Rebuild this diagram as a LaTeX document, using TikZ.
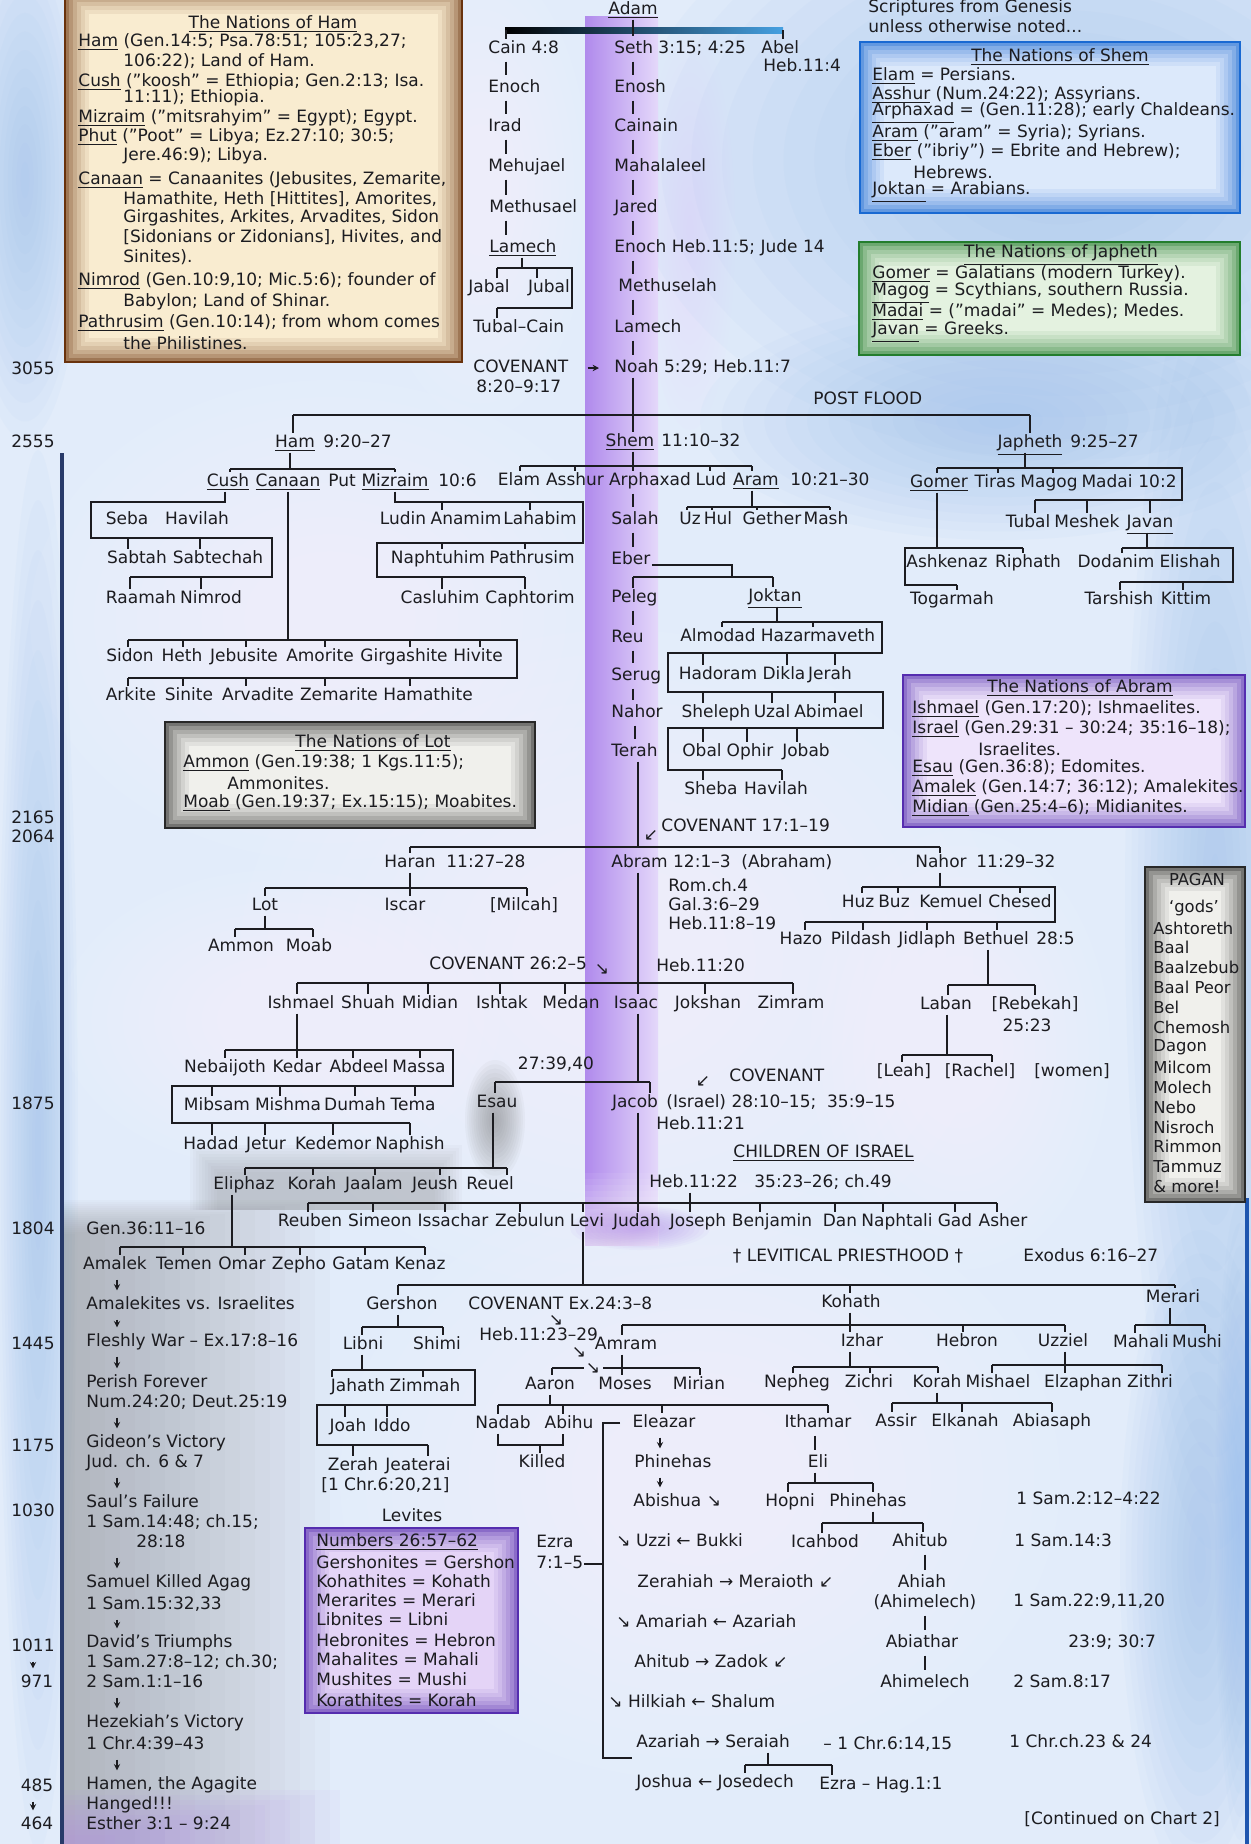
\documentclass[tikz,border=0pt]{standalone}
\usepackage{fontspec}
\setmainfont{DejaVu Sans}
\usetikzlibrary{arrows.meta}
\definecolor{bg}{RGB}{226,236,250}
\definecolor{blueA}{RGB}{150,188,238}
\definecolor{vioL}{RGB}{176,138,236}
\definecolor{vioR}{RGB}{228,216,250}
\definecolor{axisc}{RGB}{40,58,105}
\definecolor{ink}{RGB}{28,28,32}
\definecolor{hamF}{RGB}{249,236,208}
\definecolor{hamE}{RGB}{105,50,12}
\definecolor{shemF}{RGB}{220,233,251}
\definecolor{shemE}{RGB}{25,105,210}
\definecolor{japF}{RGB}{228,242,224}
\definecolor{japE}{RGB}{35,125,45}
\definecolor{abrF}{RGB}{238,228,251}
\definecolor{abrE}{RGB}{85,45,175}
\definecolor{lotF}{RGB}{240,240,236}
\definecolor{lotE}{RGB}{40,40,40}
\definecolor{levF}{RGB}{228,212,247}
\definecolor{edgeB}{RGB}{30,85,175}
\definecolor{adamB}{RGB}{70,160,225}
\tikzset{
  t/.style={inner sep=0.5pt,font=\fontsize{8.5}{10}\selectfont,text=ink,text height=6.4pt,text depth=1.8pt},
  bt/.style={inner sep=0pt,anchor=west,font=\fontsize{8.5}{10}\selectfont,text=ink},
  pg/.style={inner sep=0pt,anchor=west,font=\fontsize{8.2}{10}\selectfont,text=ink},
  ln/.style={draw=ink,line width=0.8pt},
  lnb/.style={draw=ink,line width=1.1pt},
  arr/.style={draw=ink,line width=0.7pt,-{Stealth[length=3.2pt,width=3.2pt]},shorten <=2.5pt,shorten >=2.5pt}
}
\newcommand\NT[4]{\node[t] (#1) at (#2,#3) {#4};}
\newcommand\NW[4]{\node[t,anchor=west] (#1) at (#2,#3) {#4};}
\newcommand\NB[4]{\node[bt] (#1) at (#2,#3) {#4};}
\newcommand\Tk[3]{\draw[ln] (#2,#3) -- (#2,#3 |- #1.north);}
\newcommand\Dn[3]{\draw[ln] (#2,0 |- #1.south) -- (#2,#3);}
\newcommand\Ch[3]{\draw[ln,shorten <=1.5pt,shorten >=1.5pt] (#1,0 |- #2.south) -- (#1,0 |- #3.north);}
\newcommand\Ar[3]{\draw[arr] (#1,0 |- #2.south) -- (#1,0 |- #3.north);}
\newcommand\Glow[5]{\foreach \k in {1,...,14}{\fill[#5,opacity=0.055] (#1,#2) ellipse ({#3*\k/14} and {#4*\k/14});}}
\newcommand\Frbox[6]{%
  \fill[#5] (#1,#2) rectangle (#3,#4);
  \foreach \w/\o in {12/0.07,10/0.08,8/0.1,6/0.13,4/0.18,2/0.3}{%
    \draw[#6,opacity=\o,line width=\w pt] (#1+\w,#2+\w) rectangle (#3-\w,#4-\w);}
  \draw[#6,line width=1.3pt] (#1,#2) rectangle (#3,#4);}
\begin{document}
\begin{tikzpicture}[x=0.5pt,y=-0.5pt]
\useasboundingbox (0,0) rectangle (1251,1844);
% ---------- background ----------
\fill[bg] (0,0) rectangle (1251,1844);
\Glow{1060}{160}{430}{300}{blueA}
\Glow{1000}{420}{300}{120}{blueA}
\Glow{25}{180}{60}{260}{blueA}
\Glow{1215}{900}{90}{650}{blueA}
\Glow{1200}{1560}{80}{330}{blueA}
\Glow{38}{1150}{40}{700}{blueA}
\Glow{330}{620}{300}{240}{white}
\Glow{480}{190}{110}{230}{white}
\Glow{620}{960}{380}{330}{white}
\Glow{700}{1480}{360}{300}{white}
\Glow{960}{1050}{150}{220}{white}
\Glow{280}{1020}{220}{150}{white}
% purple band
\shade[left color=vioL,right color=vioR] (585,16) rectangle (658,1245);
\foreach \i in {1,...,12}{\fill[white,opacity=0.07] (584,{1245-\i*6}) rectangle (659,1246);}
\Glow{690}{230}{45}{200}{vioR}
\Glow{640}{1228}{70}{22}{vioL}
% gray area (Esau / Amalek)
\foreach \i in {0,...,17}{\fill[gray,opacity=0.032] (63,{1200+\i*2}) rectangle ({330-\i*15},1844);}
\foreach \i in {0,...,9}{\fill[gray,opacity=0.04] ({190+\i*3},{1145+\i*3}) rectangle ({462-\i*3},1210);}
\Glow{495}{1120}{30}{60}{gray}
\foreach \i in {0,...,9}{\fill[vioL,opacity=0.06] (63,{1790+\i*5}) rectangle ({340-\i*25},1844);}
% axis and right edge
\draw[axisc,line width=1.6pt] (62,453) -- (62,1844);
\Glow{1240}{1520}{25}{320}{blueA}
\draw[edgeB,line width=2pt] (1247,1198) -- (1247,1844);
% ---------- boxes ----------
\Frbox{65}{-10}{462}{362}{hamF}{hamE}
\Frbox{860}{42}{1240}{213}{shemF}{shemE}
\Frbox{859}{242}{1240}{355}{japF}{japE}
\Frbox{903}{675}{1245}{827}{abrF}{abrE}
\Frbox{165}{722}{535}{828}{lotF}{lotE}
\Frbox{1145}{867}{1245}{1202}{lotF}{lotE}
\Frbox{305}{1528}{518}{1713}{levF}{abrE}
% Ham box text
\node[bt,anchor=center] (hamt) at (273,24) {\underline{The Nations of Ham}};
\NB{h1}{78}{42}{\underline{Ham} (Gen.14:5; Psa.78:51; 105:23,27;}
\NB{h2}{123}{61}{106:22); Land of Ham.}
\NB{h3}{78}{82}{\underline{Cush} ("koosh" = Ethiopia; Gen.2:13; Isa.}
\NB{h4}{123}{98}{11:11); Ethiopia.}
\NB{h5}{78}{118}{\underline{Mizraim} ("mitsrahyim" = Egypt); Egypt.}
\NB{h6}{78}{137}{\underline{Phut} ("Poot" = Libya; Ez.27:10; 30:5;}
\NB{h7}{123}{156}{Jere.46:9); Libya.}
\NB{h8}{78}{180}{\underline{Canaan} = Canaanites (Jebusites, Zemarite,}
\NB{h9}{123}{199}{Hamathite, Heth [Hittites], Amorites,}
\NB{h10}{123}{218}{Girgashites, Arkites, Arvadites, Sidon}
\NB{h11}{123}{237}{[Sidonians or Zidonians], Hivites, and}
\NB{h12}{123}{257}{Sinites).}
\NB{h13}{78}{281}{\underline{Nimrod} (Gen.10:9,10; Mic.5:6); founder of}
\NB{h14}{123}{302}{Babylon; Land of Shinar.}
\NB{h15}{78}{323}{\underline{Pathrusim} (Gen.10:14); from whom comes}
\NB{h16}{123}{343}{the Philistines.}
% top right note
\NB{scr}{868}{8}{Scriptures from Genesis}
\NB{unless}{868}{26}{unless otherwise noted...}
% Shem box
\node[bt,anchor=center] (shemt) at (1060,57) {\underline{The Nations of Shem}};
\NB{s1}{872}{76}{\underline{Elam} = Persians.}
\NB{s2}{872}{95}{\underline{Asshur} (Num.24:22); Assyrians.}
\NB{s3}{872}{113}{\underline{Arphaxad} = (Gen.11:28); early Chaldeans.}
\NB{s4}{872}{133}{\underline{Aram} ("aram" = Syria); Syrians.}
\NB{s5}{872}{152}{\underline{Eber} ("ibriy") = Ebrite and Hebrew);}
\NB{s6}{913}{172}{Hebrews.}
\NB{s7}{872}{192}{\underline{Joktan} = Arabians.}
% Japheth box
\node[bt,anchor=center] (japt) at (1061,255) {\underline{The Nations of Japheth}};
\NB{j1}{872}{274}{\underline{Gomer} = Galatians (modern Turkey).}
\NB{j2}{872}{293}{\underline{Magog} = Scythians, southern Russia.}
\NB{j3}{872}{312}{\underline{Madai} = ("madai" = Medes); Medes.}
\NB{j4}{872}{332}{\underline{Javan} = Greeks.}
% Abram box
\node[bt,anchor=center] (abrt) at (1080,688) {\underline{The Nations of Abram}};
\NB{a1}{912}{709}{\underline{Ishmael} (Gen.17:20); Ishmaelites.}
\NB{a2}{912}{729}{\underline{Israel} (Gen.29:31 -- 30:24; 35:16--18);}
\NB{a3}{978}{749}{Israelites.}
\NB{a4}{912}{768}{\underline{Esau} (Gen.36:8); Edomites.}
\NB{a5}{912}{788}{\underline{Amalek} (Gen.14:7; 36:12); Amalekites.}
\NB{a6}{912}{808}{\underline{Midian} (Gen.25:4--6); Midianites.}
% Lot box
\node[bt,anchor=center] (lott) at (373,743) {\underline{The Nations of Lot}};
\NB{l1}{183}{763}{\underline{Ammon} (Gen.19:38; 1 Kgs.11:5);}
\NB{l2}{227}{783}{Ammonites.}
\NB{l3}{183}{803}{\underline{Moab} (Gen.19:37; Ex.15:15); Moabites.}
% PAGAN box
\node[pg,anchor=center] (pagan) at (1197,880) {PAGAN};
\node[pg,anchor=center] (gods) at (1194,908) {`gods'};
\foreach \g [count=\n] in {Ashtoreth,Baal,Baalzebub,Baal Peor,Bel,Chemosh,Dagon,Milcom,Molech,Nebo,Nisroch,Rimmon,Tammuz,\& more!}
  {\node[pg] (pg\n) at (1153,{908+\n*19.9}) {\g};}
% Levites box
\NT{levlab}{412}{1517}{Levites}
\NB{lv0}{316}{1542}{\underline{Numbers 26:57--62}}
\NB{lv1}{316}{1562}{Gershonites = Gershon}
\NB{lv2}{316}{1581}{Kohathites = Kohath}
\NB{lv3}{316}{1600}{Merarites = Merari}
\NB{lv4}{316}{1619}{Libnites = Libni}
\NB{lv5}{316}{1640}{Hebronites = Hebron}
\NB{lv6}{316}{1659}{Mahalites = Mahali}
\NB{lv7}{316}{1679}{Mushites = Mushi}
\NB{lv8}{316}{1700}{Korathites = Korah}
% ---------- timeline ----------
\NT{y3055}{33}{370}{3055}
\NT{y2555}{33}{443}{2555}
\NT{y2165}{33}{819}{2165}
\NT{y2064}{33}{838}{2064}
\NT{y1875}{33}{1105}{1875}
\NT{y1804}{33}{1230}{1804}
\NT{y1445}{33}{1345}{1445}
\NT{y1175}{33}{1447}{1175}
\NT{y1030}{33}{1512}{1030}
\NT{y1011}{33}{1647}{1011}
\NT{y971}{37}{1683}{971}
\Ar{33}{y1011}{y971}
\NT{y485}{37}{1787}{485}
\NT{y464}{37}{1825}{464}
\Ar{33}{y485}{y464}
% ---------- Adam to Noah ----------
\NT{adam}{633}{10}{\underline{Adam}}
\NW{cain}{487}{49}{Cain 4:8}
\NW{enocha}{487}{88}{Enoch}
\NW{irad}{487}{127}{Irad}
\NW{mehujael}{487}{167}{Mehujael}
\NW{methusael}{488}{208}{Methusael}
\NW{lamecha}{488}{248}{\underline{Lamech}}
\NT{jabal}{489}{288}{Jabal}
\NT{jubal}{549}{288}{Jubal}
\NW{tubalcain}{472}{328}{Tubal--Cain}
\NW{cov1}{472}{368}{COVENANT}
\NW{cov1r}{475}{388}{8:20--9:17}
\NW{seth}{613}{49}{Seth 3:15; 4:25}
\NW{abel}{760}{49}{Abel}
\NW{abelr}{762}{67}{Heb.11:4}
\NW{enosh}{613}{88}{Enosh}
\NW{cainain}{613}{127}{Cainain}
\NW{mahalaleel}{613}{167}{Mahalaleel}
\NW{jared}{613}{208}{Jared}
\NW{enochb}{613}{248}{Enoch Heb.11:5; Jude 14}
\NW{methuselah}{617}{287}{Methuselah}
\NW{lamechb}{613}{328}{Lamech}
\NW{noah}{613}{368}{Noah 5:29; Heb.11:7}
\NW{postflood}{812}{400}{POST FLOOD}
\shade[left color=black,right color=adamB] (505,27) rectangle (783,33);
\draw[ln] (633,0 |- adam.south) -- (633,30);
\draw[ln] (506,30) -- (506,0 |- cain.north);
\draw[ln] (783,30) -- (783,0 |- abel.north);
\Ch{633}{adam}{seth}
\Ch{506}{cain}{enocha}\Ch{506}{enocha}{irad}\Ch{506}{irad}{mehujael}\Ch{506}{mehujael}{methusael}\Ch{506}{methusael}{lamecha}
\Ch{633}{seth}{enosh}\Ch{633}{enosh}{cainain}\Ch{633}{cainain}{mahalaleel}\Ch{633}{mahalaleel}{jared}\Ch{633}{jared}{enochb}\Ch{633}{enochb}{methuselah}\Ch{633}{methuselah}{lamechb}\Ch{633}{lamechb}{noah}
\draw[ln] (522,0 |- lamecha.south) -- (522,268);
\draw[ln] (497,268) -- (572,268) -- (572,308) -- (497,308);
\Tk{jabal}{497}{268}\Tk{jubal}{537}{268}\Tk{tubalcain}{497}{308}
\draw[arr,shorten <=9pt,shorten >=7pt] (cov1.east) -- (noah.west);
% ---------- Noah's sons ----------
\NT{ham}{295}{443}{\underline{Ham}}
\NW{hamr}{322}{443}{9:20--27}
\NT{shem}{630}{442}{\underline{Shem}}
\NW{shemr}{660}{442}{11:10--32}
\NT{japheth}{1030}{443}{\underline{Japheth}}
\NW{japhr}{1069}{443}{9:25--27}
\draw[lnb] (293,415) -- (1030,415);
\draw[ln] (293,415) -- (293,0 |- ham.north);
\draw[ln] (1030,415) -- (1030,0 |- japheth.north);
\draw[ln] (633,0 |- noah.south) -- (633,0 |- shem.north);
% ---------- Ham subtree ----------
\NT{cush}{228}{482}{\underline{Cush}}
\NT{canaan}{288}{482}{\underline{Canaan}}
\NT{put}{342}{482}{Put}
\NT{mizraim}{395}{482}{\underline{Mizraim}}
\NW{r106}{437}{482}{10:6}
\Dn{ham}{290}{469}
\draw[ln] (230,469) -- (395,469);
\Tk{cush}{230}{469}\Tk{mizraim}{395}{469}
\NT{seba}{127}{520}{Seba}
\NT{havilaha}{197}{520}{Havilah}
\NT{sabtah}{137}{559}{Sabtah}
\NT{sabtechah}{218}{559}{Sabtechah}
\NT{raamah}{141}{599}{Raamah}
\NT{nimrod}{211}{599}{Nimrod}
\draw[ln] (225,0 |- cush.south) -- (225,502) -- (91,502) -- (91,538) -- (272,538) -- (272,577) -- (130,577);
\Tk{sabtah}{128}{538}\Tk{sabtechah}{200}{538}\Tk{raamah}{130}{577}\Tk{nimrod}{201}{577}
\NT{ludin}{403}{520}{Ludin}
\NT{anamim}{466}{520}{Anamim}
\NT{lahabim}{540}{520}{Lahabim}
\NT{naphtuhim}{438}{559}{Naphtuhim}
\NT{pathrusim}{532}{559}{Pathrusim}
\NT{casluhim}{440}{599}{Casluhim}
\NT{caphtorim}{530}{599}{Caphtorim}
\draw[ln] (395,0 |- mizraim.south) -- (395,502) -- (583,502) -- (583,543) -- (377,543) -- (377,577) -- (525,577);
\Tk{anamim}{442}{502}\Tk{lahabim}{530}{502}\Tk{naphtuhim}{442}{543}\Tk{pathrusim}{525}{543}\Tk{casluhim}{442}{577}\Tk{caphtorim}{525}{577}
\NT{sidon}{130}{657}{Sidon}
\NT{heth}{182}{657}{Heth}
\NT{jebusite}{244}{657}{Jebusite}
\NT{amorite}{320}{657}{Amorite}
\NT{girgashite}{404}{657}{Girgashite}
\NT{hivite}{478}{657}{Hivite}
\NT{arkite}{131}{696}{Arkite}
\NT{sinite}{189}{696}{Sinite}
\NT{arvadite}{258}{696}{Arvadite}
\NT{zemarite}{339}{696}{Zemarite}
\NT{hamathite}{428}{696}{Hamathite}
\draw[ln] (288,0 |- canaan.south) -- (288,640);
\draw[ln] (128,640) -- (517,640) -- (517,678) -- (128,678);
\Tk{sidon}{128}{640}\Tk{heth}{183}{640}\Tk{jebusite}{246}{640}\Tk{amorite}{325}{640}\Tk{girgashite}{410}{640}\Tk{hivite}{480}{640}
\Tk{arkite}{128}{678}\Tk{sinite}{183}{678}\Tk{arvadite}{246}{678}\Tk{zemarite}{325}{678}\Tk{hamathite}{410}{678}
% ---------- Shem subtree ----------
\NT{elam}{519}{481}{Elam}
\NT{asshur}{575}{481}{Asshur}
\NT{arphaxad}{650}{481}{Arphaxad}
\NT{lud}{711}{481}{Lud}
\NT{aram}{756}{481}{\underline{Aram}}
\NW{r1021}{789}{481}{10:21--30}
\Dn{shem}{633}{466}
\draw[ln] (520,466) -- (752,466);
\Tk{elam}{520}{466}\Tk{asshur}{575}{466}\Tk{arphaxad}{633}{466}\Tk{lud}{710}{466}\Tk{aram}{752}{466}
\NW{salah}{610}{520}{Salah}
\NW{eber}{610}{560}{Eber}
\NW{peleg}{610}{598}{Peleg}
\NW{reu}{610}{638}{Reu}
\NW{serug}{610}{676}{Serug}
\NW{nahora}{610}{713}{Nahor}
\NW{terah}{610}{752}{Terah}
\Ch{633}{arphaxad}{salah}\Ch{633}{salah}{eber}\Ch{633}{peleg}{reu}\Ch{633}{reu}{serug}\Ch{633}{serug}{nahora}\Ch{635}{nahora}{terah}
\NT{uz}{690}{520}{Uz}
\NT{hul}{718}{520}{Hul}
\NT{gether}{772}{520}{Gether}
\NT{mash}{826}{520}{Mash}
\Dn{aram}{752}{507}
\draw[ln] (687,507) -- (830,507);
\Tk{uz}{687}{507}\Tk{hul}{712}{507}\Tk{gether}{757}{507}\Tk{mash}{830}{507}
\NT{joktan}{775}{597}{\underline{Joktan}}
\draw[ln] (eber.east |- 0,565) -- (732,565) -- (732,577);
\draw[ln] (633,577) -- (773,577);
\Tk{peleg}{633}{577}\Tk{joktan}{773}{577}
\NT{almodad}{718}{637}{Almodad}
\NT{hazarmaveth}{818}{637}{Hazarmaveth}
\NT{hadoram}{718}{675}{Hadoram}
\NT{dikla}{784}{675}{Dikla}
\NT{jerah}{830}{675}{Jerah}
\NT{sheleph}{716}{713}{Sheleph}
\NT{uzal}{772}{713}{Uzal}
\NT{abimael}{829}{713}{Abimael}
\NT{obal}{702}{752}{Obal}
\NT{ophir}{750}{752}{Ophir}
\NT{jobab}{806}{752}{Jobab}
\NT{sheba}{711}{790}{Sheba}
\NT{havilahb}{776}{790}{Havilah}
\Dn{joktan}{777}{622}
\draw[ln] (722,622) -- (882,622) -- (882,653) -- (668,653) -- (668,692) -- (883,692) -- (883,728) -- (668,728) -- (668,770) -- (782,770);
\Tk{almodad}{722}{622}\Tk{hazarmaveth}{813}{622}
\Tk{hadoram}{703}{653}\Tk{dikla}{787}{653}\Tk{jerah}{835}{653}
\Tk{sheleph}{703}{692}\Tk{uzal}{772}{692}\Tk{abimael}{835}{692}
\Tk{obal}{703}{728}\Tk{ophir}{747}{728}\Tk{jobab}{797}{728}
\Tk{sheba}{703}{770}\Tk{havilahb}{782}{770}
% ---------- Japheth subtree ----------
\NT{gomer}{939}{483}{\underline{Gomer}}
\NT{tiras}{995}{483}{Tiras}
\NT{magog}{1049}{483}{Magog}
\NT{madai}{1107}{483}{Madai}
\NW{r102}{1137}{483}{10:2}
\Dn{japheth}{1025}{468}
\draw[ln] (937,468) -- (1182,468) -- (1182,500) -- (1035,500);
\Tk{gomer}{937}{468}\Tk{tiras}{998}{468}\Tk{magog}{1053}{468}
\NT{tubal}{1028}{523}{Tubal}
\NT{meshek}{1087}{523}{Meshek}
\NT{javan}{1150}{523}{\underline{Javan}}
\Tk{tubal}{1035}{500}\Tk{meshek}{1087}{500}\Tk{javan}{1150}{500}
\NT{ashkenaz}{947}{563}{Ashkenaz}
\NT{riphath}{1028}{563}{Riphath}
\NT{togarmah}{952}{600}{Togarmah}
\Dn{gomer}{937}{548}
\draw[ln] (1023,548) -- (905,548) -- (905,585) -- (957,585);
\Tk{riphath}{1023}{548}\Tk{togarmah}{957}{585}
\NT{dodanim}{1116}{563}{Dodanim}
\NT{elishah}{1190}{563}{Elishah}
\NT{tarshish}{1119}{600}{Tarshish}
\NT{kittim}{1186}{600}{Kittim}
\Dn{javan}{1147}{548}
\draw[ln] (1122,548) -- (1233,548) -- (1233,582) -- (1120,582);
\Tk{dodanim}{1122}{548}\Tk{tarshish}{1120}{582}\Tk{kittim}{1183}{582}
% ---------- Terah / Abram ----------
\NT{covarr1}{651}{836}{↙}
\NW{cov17}{660}{827}{COVENANT 17:1--19}
\NT{haran}{410}{863}{Haran}
\NW{haranr}{445}{863}{11:27--28}
\NW{abram}{610}{863}{Abram 12:1--3 \ (Abraham)}
\NT{nahorb}{941}{863}{Nahor}
\NW{nahorr}{975}{863}{11:29--32}
\NW{rom}{667}{887}{Rom.ch.4}
\NW{gal}{667}{906}{Gal.3:6--29}
\NW{heba}{667}{925}{Heb.11:8--19}
\draw[ln] (638,0 |- terah.south) -- (638,847);
\draw[lnb] (410,847) -- (940,847);
\Tk{haran}{410}{847}\Tk{nahorb}{940}{847}
\NT{lot}{265}{906}{Lot}
\NT{iscar}{405}{906}{Iscar}
\NT{milcah}{524}{906}{[Milcah]}
\Dn{haran}{410}{888}
\draw[ln] (265,888) -- (527,888);
\Tk{lot}{265}{888}\Tk{iscar}{410}{888}\Tk{milcah}{527}{888}
\NT{ammona}{241}{947}{Ammon}
\NT{moaba}{309}{947}{Moab}
\Dn{lot}{265}{929}
\draw[ln] (235,929) -- (313,929);
\Tk{ammona}{235}{929}\Tk{moaba}{313}{929}
\NT{huz}{858}{903}{Huz}
\NT{buz}{894}{903}{Buz}
\NT{kemuel}{951}{903}{Kemuel}
\NT{chesed}{1020}{903}{Chesed}
\Dn{nahorb}{940}{887}
\draw[ln] (862,887) -- (1055,887) -- (1055,922) -- (805,922);
\Tk{huz}{862}{887}\Tk{buz}{898}{887}\Tk{chesed}{1020}{887}
\NT{hazo}{801}{940}{Hazo}
\NT{pildash}{861}{940}{Pildash}
\NT{jidlaph}{927}{940}{Jidlaph}
\NT{bethuel}{996}{940}{Bethuel}
\NW{r285}{1035}{940}{28:5}
\Tk{hazo}{805}{922}\Tk{pildash}{863}{922}\Tk{jidlaph}{927}{922}\Tk{bethuel}{997}{922}
\NT{laban}{946}{1005}{Laban}
\NT{rebekah}{1035}{1005}{[Rebekah]}
\NT{r2523}{1027}{1027}{25:23}
\Dn{bethuel}{988}{985}
\draw[ln] (948,985) -- (1035,985);
\Tk{laban}{948}{985}\Tk{rebekah}{1035}{985}
\NT{leah}{904}{1072}{[Leah]}
\NT{rachel}{980}{1072}{[Rachel]}
\NT{women}{1072}{1072}{[women]}
\Dn{laban}{947}{1055}
\draw[ln] (902,1055) -- (992,1055);
\Tk{leah}{902}{1055}\Tk{rachel}{992}{1055}
% ---------- Abram's sons ----------
\NW{cov26}{428}{965}{COVENANT 26:2--5}
\NT{arr26}{602}{970}{↘}
\NW{heb1120}{655}{967}{Heb.11:20}
\NT{ishmael}{301}{1004}{Ishmael}
\NT{shuah}{368}{1004}{Shuah}
\NT{midian}{430}{1004}{Midian}
\NT{ishtak}{502}{1004}{Ishtak}
\NT{medan}{571}{1004}{Medan}
\NT{isaac}{636}{1004}{Isaac}
\NT{jokshan}{708}{1004}{Jokshan}
\NT{zimram}{791}{1004}{Zimram}
\draw[ln] (638,0 |- abram.south) -- (638,983);
\draw[lnb] (297,983) -- (793,983);
\Tk{ishmael}{297}{983}\Tk{shuah}{368}{983}\Tk{midian}{428}{983}\Tk{ishtak}{500}{983}\Tk{medan}{565}{983}\Tk{isaac}{638}{983}\Tk{jokshan}{705}{983}\Tk{zimram}{793}{983}
\NT{nebaijoth}{225}{1068}{Nebaijoth}
\NT{kedar}{297}{1068}{Kedar}
\NT{abdeel}{359}{1068}{Abdeel}
\NT{massa}{419}{1068}{Massa}
\NT{mibsam}{217}{1106}{Mibsam}
\NT{mishma}{288}{1106}{Mishma}
\NT{dumah}{355}{1106}{Dumah}
\NT{tema}{413}{1106}{Tema}
\NT{hadad}{211}{1145}{Hadad}
\NT{jetur}{266}{1145}{Jetur}
\NT{kedemor}{333}{1145}{Kedemor}
\NT{naphish}{410}{1145}{Naphish}
\Dn{ishmael}{297}{1050}
\draw[ln] (225,1050) -- (453,1050) -- (453,1086) -- (172,1086) -- (172,1123) -- (410,1123);
\Tk{nebaijoth}{225}{1050}\Tk{kedar}{297}{1050}\Tk{abdeel}{353}{1050}\Tk{massa}{420}{1050}
\Tk{mibsam}{212}{1086}\Tk{mishma}{280}{1086}\Tk{dumah}{355}{1086}\Tk{tema}{415}{1086}
\Tk{hadad}{212}{1123}\Tk{jetur}{265}{1123}\Tk{kedemor}{333}{1123}\Tk{naphish}{410}{1123}
% ---------- Isaac ----------
\NT{r2739}{556}{1065}{27:39,40}
\NT{esau}{497}{1103}{Esau}
\NT{jacob}{635}{1103}{Jacob}
\NW{jacobr}{665}{1103}{(Israel) 28:10--15; \ 35:9--15}
\NW{cov28}{728}{1077}{COVENANT}
\NT{arr28}{703}{1082}{↙}
\NW{heb1121}{655}{1125}{Heb.11:21}
\Dn{isaac}{638}{1082}
\draw[ln] (495,1082) -- (650,1082);
\Tk{esau}{495}{1082}\Tk{jacob}{650}{1082}
\NT{eliphaz}{244}{1185}{Eliphaz}
\NT{korah}{312}{1185}{Korah}
\NT{jaalam}{374}{1185}{Jaalam}
\NT{jeush}{435}{1185}{Jeush}
\NT{reuel}{490}{1185}{Reuel}
\Dn{esau}{493}{1168}
\draw[ln] (245,1168) -- (507,1168);
\Tk{eliphaz}{245}{1168}\Tk{korah}{313}{1168}\Tk{jaalam}{375}{1168}\Tk{jeush}{440}{1168}\Tk{reuel}{507}{1168}
\NW{gen36}{85}{1230}{Gen.36:11--16}
\NT{amalek}{115}{1265}{Amalek}
\NT{temen}{184}{1265}{Temen}
\NT{omar}{242}{1265}{Omar}
\NT{zepho}{299}{1265}{Zepho}
\NT{gatam}{361}{1265}{Gatam}
\NT{kenaz}{420}{1265}{Kenaz}
\Dn{eliphaz}{232}{1247}
\draw[ln] (120,1247) -- (425,1247);
\Tk{amalek}{120}{1247}\Tk{temen}{183}{1247}\Tk{omar}{245}{1247}\Tk{zepho}{300}{1247}\Tk{gatam}{365}{1247}\Tk{kenaz}{425}{1247}
% left column
\NW{amv}{85}{1305}{Amalekites vs. Israelites}
\NW{flw}{85}{1342}{Fleshly War -- Ex.17:8--16}
\NW{perish}{85}{1383}{Perish Forever}
\NW{num24}{85}{1403}{Num.24:20; Deut.25:19}
\NW{gideon}{85}{1443}{Gideon's Victory}
\NW{jud}{85}{1463}{Jud. ch. 6 \& 7}
\NW{saul}{85}{1503}{Saul's Failure}
\NW{sam1448}{85}{1523}{1 Sam.14:48; ch.15;}
\NW{r2818}{135}{1543}{28:18}
\NW{samuel}{85}{1583}{Samuel Killed Agag}
\NW{sam1532}{85}{1605}{1 Sam.15:32,33}
\NW{david}{85}{1643}{David's Triumphs}
\NW{sam278}{85}{1663}{1 Sam.27:8--12; ch.30;}
\NW{sam11}{85}{1683}{2 Sam.1:1--16}
\NW{hezekiah}{85}{1723}{Hezekiah's Victory}
\NW{chr439}{85}{1745}{1 Chr.4:39--43}
\NW{hamen}{85}{1785}{Hamen, the Agagite}
\NW{hanged}{85}{1805}{Hanged!!!}
\NW{esther}{85}{1825}{Esther 3:1 -- 9:24}
\Ar{117}{amalek}{amv}\Ar{117}{amv}{flw}\Ar{117}{flw}{perish}\Ar{117}{num24}{gideon}\Ar{117}{jud}{saul}
\Ar{117}{r2818}{samuel}\Ar{117}{sam1532}{david}\Ar{117}{sam11}{hezekiah}\Ar{117}{chr439}{hamen}
% ---------- Jacob's sons ----------
\NW{children}{732}{1153}{\underline{CHILDREN OF ISRAEL}}
\NW{heb1122}{648}{1183}{Heb.11:22}
\NW{r3523}{753}{1183}{35:23--26; ch.49}
\NT{reuben}{310}{1222}{Reuben}
\NT{simeon}{380}{1222}{Simeon}
\NT{issachar}{453}{1222}{Issachar}
\NT{zebulun}{530}{1222}{Zebulun}
\NT{levi}{587}{1222}{Levi}
\NT{judah}{637}{1222}{Judah}
\NT{joseph}{698}{1222}{Joseph}
\NT{benjamin}{772}{1222}{Benjamin}
\NT{dan}{840}{1222}{Dan}
\NT{naphtali}{897}{1222}{Naphtali}
\NT{gad}{955}{1222}{Gad}
\NT{asher}{1003}{1222}{Asher}
\draw[ln] (638,0 |- jacob.south) -- (638,1203);
\draw[lnb] (308,1203) -- (997,1203);
\Tk{reuben}{308}{1203}\Tk{simeon}{373}{1203}\Tk{issachar}{445}{1203}\Tk{zebulun}{520}{1203}\Tk{levi}{583}{1203}\Tk{judah}{638}{1203}
\Tk{joseph}{690}{1203}\Tk{benjamin}{760}{1203}\Tk{dan}{835}{1203}\Tk{naphtali}{883}{1203}\Tk{gad}{955}{1203}\Tk{asher}{997}{1203}
\draw[ln] (690,0 |- heb1122.south) -- (690,1203);
% ---------- Levi ----------
\NT{levitical}{848}{1257}{† LEVITICAL PRIESTHOOD †}
\NW{exodus}{1022}{1257}{Exodus 6:16--27}
\NT{gershon}{402}{1305}{Gershon}
\NW{covex}{467}{1305}{COVENANT Ex.24:3--8}
\NT{kohath}{851}{1303}{Kohath}
\NT{merari}{1173}{1298}{Merari}
\Dn{levi}{583}{1285}
\draw[lnb] (398,1285) -- (1175,1285);
\Tk{gershon}{398}{1285}\Tk{kohath}{850}{1285}\Tk{merari}{1175}{1285}
\NT{libni}{363}{1345}{Libni}
\NT{shimi}{437}{1345}{Shimi}
\Dn{gershon}{398}{1327}
\draw[ln] (362,1327) -- (443,1327);
\Tk{libni}{362}{1327}\Tk{shimi}{443}{1327}
\NW{heb1123}{478}{1336}{Heb.11:23--29}
\NT{arra}{556}{1321}{↘}
\NT{arrb}{579}{1353}{↘}
\NT{arrc}{593}{1369}{↘}
\NT{jahath}{358}{1387}{Jahath}
\NT{zimmah}{425}{1387}{Zimmah}
\NT{joah}{348}{1427}{Joah}
\NT{iddo}{392}{1427}{Iddo}
\NT{zerah}{353}{1466}{Zerah}
\NT{jeaterai}{418}{1466}{Jeaterai}
\NW{chr620}{320}{1486}{[1 Chr.6:20,21]}
\Dn{libni}{362}{1370}
\draw[ln] (332,1370) -- (475,1370) -- (475,1405) -- (317,1405) -- (317,1445) -- (428,1445);
\Tk{jahath}{332}{1370}\Tk{zimmah}{423}{1370}\Tk{joah}{345}{1405}\Tk{iddo}{387}{1405}\Tk{zerah}{353}{1445}\Tk{jeaterai}{428}{1445}
\NT{amram}{626}{1345}{Amram}
\NT{izhar}{862}{1342}{Izhar}
\NT{hebron}{967}{1342}{Hebron}
\NT{uzziel}{1063}{1342}{Uzziel}
\Dn{kohath}{850}{1325}
\draw[ln] (622,1325) -- (1065,1325);
\Tk{amram}{622}{1325}\Tk{izhar}{850}{1325}\Tk{hebron}{963}{1325}\Tk{uzziel}{1065}{1325}
\NT{mahali}{1141}{1343}{Mahali}
\NT{mushi}{1197}{1343}{Mushi}
\Dn{merari}{1170}{1325}
\draw[ln] (1135,1325) -- (1205,1325);
\Tk{mahali}{1135}{1325}\Tk{mushi}{1205}{1325}
\NT{aaron}{550}{1385}{Aaron}
\NT{moses}{625}{1385}{Moses}
\NT{mirian}{699}{1385}{Mirian}
\Dn{amram}{622}{1368}
\draw[ln] (552,1368) -- (584,1368);
\draw[ln] (603,1368) -- (700,1368);
\Tk{aaron}{552}{1368}\Tk{moses}{622}{1368}\Tk{mirian}{700}{1368}
\NT{nepheg}{797}{1383}{Nepheg}
\NT{zichri}{869}{1383}{Zichri}
\NT{korahb}{937}{1383}{Korah}
\NT{mishael}{998}{1383}{Mishael}
\NT{elzaphan}{1083}{1383}{Elzaphan}
\NT{zithri}{1150}{1383}{Zithri}
\Dn{izhar}{850}{1367}
\draw[ln] (793,1367) -- (938,1367);
\Dn{uzziel}{1065}{1365}
\draw[ln] (992,1365) -- (1162,1365);
\Tk{nepheg}{793}{1367}\Tk{zichri}{870}{1367}\Tk{korahb}{938}{1367}\Tk{mishael}{992}{1365}\Tk{elzaphan}{1065}{1365}\Tk{zithri}{1162}{1365}
\NT{assir}{896}{1422}{Assir}
\NT{elkanah}{965}{1422}{Elkanah}
\NT{abiasaph}{1052}{1422}{Abiasaph}
\Dn{korahb}{937}{1403}
\draw[ln] (892,1403) -- (1052,1403);
\Tk{assir}{892}{1403}\Tk{elkanah}{962}{1403}\Tk{abiasaph}{1052}{1403}
% ---------- Aaron ----------
\NT{nadab}{503}{1424}{Nadab}
\NT{abihu}{569}{1424}{Abihu}
\NT{eleazar}{664}{1423}{Eleazar}
\NT{ithamar}{818}{1423}{Ithamar}
\Dn{aaron}{550}{1405}
\draw[ln] (498,1405) -- (828,1405);
\Tk{nadab}{498}{1405}\Tk{abihu}{563}{1405}\Tk{eleazar}{662}{1405}\Tk{ithamar}{828}{1405}
\NT{killed}{542}{1463}{Killed}
\draw[ln] (498,0 |- nadab.south) -- (498,1445) -- (563,1445) -- (563,0 |- abihu.south);
\Tk{killed}{540}{1445}
\draw[ln] (620,1423) -- (603,1423) -- (603,1758) -- (632,1758);
\NW{ezra}{535}{1543}{Ezra}
\NW{ezrar}{535}{1564}{7:1--5}
\draw[ln] (ezrar.east) -- (603,0 |- ezrar.east);
\NW{phinehasa}{633}{1463}{Phinehas}
\NW{abishua}{632}{1502}{Abishua ↘}
\NW{uzzi}{615}{1542}{↘ Uzzi ← Bukki}
\NW{zerahiah}{636}{1583}{Zerahiah → Meraioth ↙}
\NW{amariah}{615}{1623}{↘ Amariah ← Azariah}
\NW{ahituba}{633}{1663}{Ahitub → Zadok ↙}
\NW{hilkiah}{607}{1703}{↘ Hilkiah ← Shalum}
\NW{azariahb}{635}{1743}{Azariah → Seraiah}
\NW{chr614}{822}{1745}{-- 1 Chr.6:14,15}
\NW{joshua}{635}{1783}{Joshua ← Josedech}
\NW{ezrah}{818}{1785}{Ezra -- Hag.1:1}
\Ar{660}{eleazar}{phinehasa}\Ar{660}{phinehasa}{abishua}
\draw[ln] (768,0 |- azariahb.south) -- (768,1765);
\draw[ln] (745,1765) -- (832,1765);
\Tk{joshua}{745}{1765}\Tk{ezrah}{832}{1765}
\NT{eli}{818}{1463}{Eli}
\Ch{815}{ithamar}{eli}
\NT{hopni}{790}{1502}{Hopni}
\NT{phinehasb}{868}{1502}{Phinehas}
\Dn{eli}{815}{1483}
\draw[ln] (788,1483) -- (873,1483);
\Tk{hopni}{788}{1483}\Tk{phinehasb}{873}{1483}
\NW{sam212}{1015}{1500}{1 Sam.2:12--4:22}
\NT{icahbod}{825}{1543}{Icahbod}
\NT{ahitubb}{920}{1542}{Ahitub}
\Dn{phinehasb}{873}{1523}
\draw[ln] (822,1523) -- (923,1523);
\Tk{icahbod}{822}{1523}\Tk{ahitubb}{923}{1523}
\NW{sam143}{1013}{1542}{1 Sam.14:3}
\NT{ahiah}{922}{1583}{Ahiah}
\NT{ahimelecha}{925}{1603}{(Ahimelech)}
\NW{sam229}{1012}{1602}{1 Sam.22:9,11,20}
\NT{abiathar}{922}{1643}{Abiathar}
\NW{r239}{1067}{1643}{23:9; 30:7}
\NT{ahimelechb}{925}{1683}{Ahimelech}
\NW{sam817}{1012}{1683}{2 Sam.8:17}
\Ch{925}{ahitubb}{ahiah}\Ch{925}{ahimelecha}{abiathar}\Ch{925}{abiathar}{ahimelechb}
\NW{chr2324}{1008}{1743}{1 Chr.ch.23 \& 24}
\NW{continued}{1023}{1820}{[Continued on Chart 2]}
\end{tikzpicture}
\end{document}
